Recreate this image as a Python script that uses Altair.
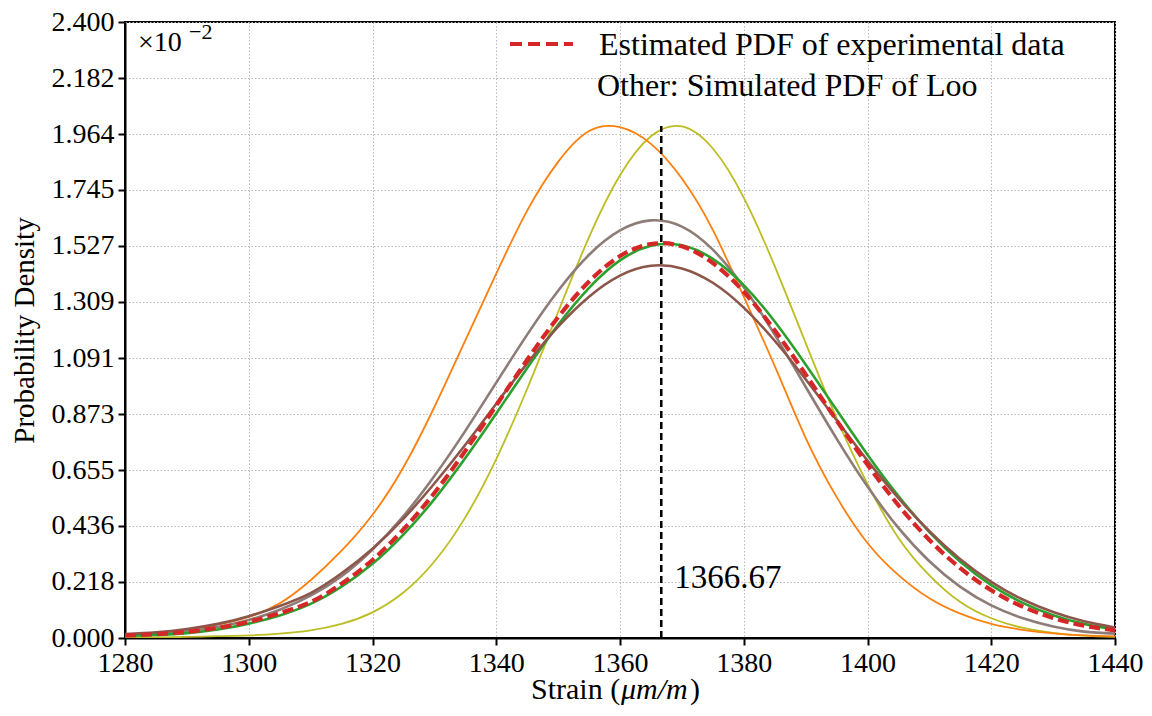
import altair as alt
import pandas as pd

# ---- data (values in units of 1e-2) ----
strain = [1280, 1285, 1290, 1295, 1300, 1305, 1310, 1315, 1320, 1325, 1330,
          1335, 1340, 1345, 1350, 1355, 1360, 1365, 1370, 1375, 1380, 1385,
          1390, 1395, 1400, 1405, 1410, 1415, 1420, 1425, 1430, 1435, 1440]

pdf_orange = [0.012, 0.020, 0.033, 0.052, 0.082, 0.135, 0.225, 0.340, 0.480, 0.665, 0.900,
              1.160, 1.420, 1.665, 1.855, 1.975, 1.990, 1.925, 1.790, 1.590, 1.330, 1.060,
              0.780, 0.550, 0.370, 0.245, 0.155, 0.095, 0.055, 0.032, 0.018, 0.010, 0.006]
pdf_olive = [0.001, 0.002, 0.004, 0.007, 0.010, 0.017, 0.030, 0.055, 0.100, 0.177, 0.298,
             0.470, 0.697, 0.971, 1.270, 1.562, 1.803, 1.955, 1.993, 1.907, 1.716, 1.449,
             1.150, 0.857, 0.600, 0.390, 0.244, 0.140, 0.077, 0.040, 0.020, 0.009, 0.004]
pdf_gray = [0.009, 0.015, 0.026, 0.043, 0.070, 0.110, 0.165, 0.241, 0.345, 0.475, 0.631,
            0.807, 0.995, 1.182, 1.353, 1.493, 1.588, 1.627, 1.603, 1.513, 1.367, 1.182,
            0.979, 0.777, 0.590, 0.429, 0.299, 0.199, 0.127, 0.078, 0.045, 0.025, 0.017]
pdf_green = [0.008, 0.012, 0.019, 0.033, 0.056, 0.088, 0.133, 0.200, 0.289, 0.403, 0.541,
             0.701, 0.875, 1.052, 1.220, 1.364, 1.471, 1.528, 1.530, 1.477, 1.375, 1.233,
             1.066, 0.889, 0.714, 0.553, 0.413, 0.297, 0.206, 0.138, 0.089, 0.055, 0.034]
pdf_brown = [0.015, 0.022, 0.035, 0.055, 0.085, 0.125, 0.175, 0.252, 0.348, 0.465, 0.602,
             0.753, 0.913, 1.070, 1.213, 1.330, 1.412, 1.450, 1.440, 1.384, 1.287, 1.158,
             1.008, 0.849, 0.691, 0.545, 0.416, 0.307, 0.219, 0.151, 0.101, 0.065, 0.041]
pdf_experimental = [0.010, 0.015, 0.024, 0.040, 0.063, 0.097, 0.140, 0.211, 0.304, 0.423, 0.565,
                    0.729, 0.906, 1.084, 1.250, 1.389, 1.488, 1.535, 1.526, 1.461, 1.349, 1.199,
                    1.027, 0.848, 0.675, 0.517, 0.382, 0.272, 0.186, 0.123, 0.078, 0.048, 0.030]

series_names = ["olive", "orange", "gray", "green", "brown"]
series_values = [pdf_olive, pdf_orange, pdf_gray, pdf_green, pdf_brown]
series_colors = ["#bcbd22", "#ff7f0e", "#8e7c77", "#2ca02c", "#8c564b"]
series_widths = [1.8, 1.8, 2.6, 2.6, 2.6]

mean_strain = [1366.67]
mean_line_top = [1.995]
mean_label = ["1366.67"]

x_ticks = [1280, 1300, 1320, 1340, 1360, 1380, 1400, 1420, 1440]
y_ticks = [0.0, 0.218182, 0.436364, 0.654545, 0.872727, 1.090909, 1.309091,
           1.527273, 1.745455, 1.963636, 2.181818, 2.4]

legend_label = "Estimated PDF of experimental data"
legend_note = "Other: Simulated PDF of Loo"
x_title_parts = ["Strain (", "μm/m", ")"]

FONT = "'Liberation Serif', 'DejaVu Serif', serif"
W, H = 990, 616

x_scale = alt.Scale(domain=[1280, 1440], nice=False, zero=False)
y_scale = alt.Scale(domain=[0, 2.4], nice=False, zero=True)

x_enc = alt.X("x:Q", scale=x_scale,
              axis=alt.Axis(values=x_ticks, format="d", title=None))
y_enc = alt.Y("y:Q", scale=y_scale,
              axis=alt.Axis(values=y_ticks, format=".3f", title="Probability Density"))

rows = []
for name, vals in zip(series_names, series_values):
    for xv, yv in zip(strain, vals):
        rows.append({"x": xv, "y": yv, "s": name})
sim_df = pd.DataFrame(rows)

layers = []
for name, col, w in zip(series_names, series_colors, series_widths):
    layers.append(
        alt.Chart(sim_df[sim_df.s == name]).mark_line(
            color=col, strokeWidth=w, interpolate="natural", clip=True
        ).encode(x=x_enc, y=y_enc)
    )

exp_df = pd.DataFrame({"x": strain, "y": pdf_experimental})
exp_line = alt.Chart(exp_df).mark_line(
    color="#d62728", strokeWidth=4.2, strokeDash=[11, 5], interpolate="natural", clip=True
).encode(x=x_enc, y=y_enc)

vdf = pd.DataFrame({"x": mean_strain, "y": [0.0], "y2": mean_line_top, "t": mean_label,
                    "ty": [0.235]})
vline = alt.Chart(vdf).mark_rule(color="black", strokeWidth=2.5, strokeDash=[7, 4]).encode(
    x=alt.X("x:Q", scale=x_scale), y=alt.Y("y:Q", scale=y_scale), y2="y2:Q")
vtext = alt.Chart(vdf).mark_text(align="left", baseline="middle", dx=13, fontSize=33,
                                 font=FONT, color="black").encode(
    x=alt.X("x:Q", scale=x_scale), y=alt.Y("ty:Q", scale=y_scale), text="t:N")

# legend (manual)
leg_line = alt.Chart(pd.DataFrame({"a": [0]})).mark_rule(
    color="#d62728", strokeWidth=4.2, strokeDash=[12, 6]).encode(
    x=alt.value(385), x2=alt.value(448), y=alt.value(22))
leg_text = alt.Chart(pd.DataFrame({"t": [legend_label]})).mark_text(
    align="left", baseline="middle", fontSize=32, font=FONT, color="black").encode(
    x=alt.value(474), y=alt.value(23), text="t:N")
leg_note = alt.Chart(pd.DataFrame({"t": [legend_note]})).mark_text(
    align="left", baseline="middle", fontSize=32, font=FONT, color="black").encode(
    x=alt.value(472), y=alt.value(64), text="t:N")

# offset text
off_main = alt.Chart(pd.DataFrame({"t": ["×10"]})).mark_text(
    align="left", baseline="middle", fontSize=28, font=FONT, color="black").encode(
    x=alt.value(13), y=alt.value(21), text="t:N")
off_exp = alt.Chart(pd.DataFrame({"t": ["−2"]})).mark_text(
    align="left", baseline="middle", fontSize=22, font=FONT, color="black").encode(
    x=alt.value(64), y=alt.value(10), text="t:N")

# x-axis title with italic unit
XT_Y = H + 52
xt1 = alt.Chart(pd.DataFrame({"t": [x_title_parts[0]]})).mark_text(
    align="left", baseline="middle", fontSize=30, font=FONT, color="black").encode(
    x=alt.value(406), y=alt.value(XT_Y), text="t:N")
xt2 = alt.Chart(pd.DataFrame({"t": [x_title_parts[1]]})).mark_text(
    align="left", baseline="middle", fontSize=30, font=FONT, fontStyle="italic",
    color="black").encode(x=alt.value(496), y=alt.value(XT_Y), text="t:N")
xt3 = alt.Chart(pd.DataFrame({"t": [x_title_parts[2]]})).mark_text(
    align="left", baseline="middle", fontSize=30, font=FONT, color="black").encode(
    x=alt.value(565), y=alt.value(XT_Y), text="t:N")

chart = alt.layer(*layers, exp_line, vline, vtext, leg_line, leg_text, leg_note,
                  off_main, off_exp, xt1, xt2, xt3).properties(
    width=W, height=H,
    autosize=alt.AutoSizeParams(type="none"),
    padding={"left": 117, "top": 14, "right": 29, "bottom": 70},
    background="white",
).configure_view(
    stroke="black", strokeWidth=2
).configure_axis(
    labelFont=FONT, titleFont=FONT, labelFontSize=28, titleFontSize=29,
    labelColor="black", titleColor="black", titleFontWeight="normal",
    domainColor="black", domainWidth=2, tickColor="black", tickWidth=2, tickSize=7,
    gridColor="#b8b8b8", gridDash=[1.5, 2], gridWidth=1, labelPadding=4,
).configure_axisX(
    labelFlush=False
).configure_axisY(
    titlePadding=12, labelFlush=False
)

chart.save("out.html", embed_options={"renderer": "svg", "actions": False})
